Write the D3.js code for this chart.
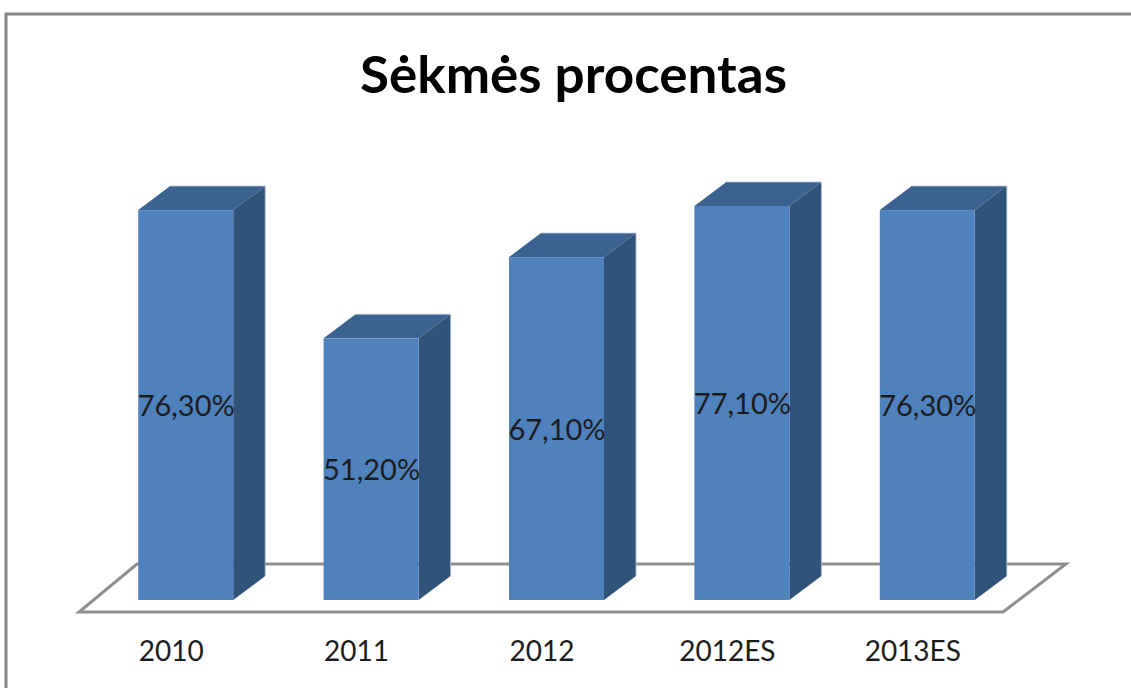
<!DOCTYPE html>
<html><head><meta charset="utf-8">
<script src="https://cdn.jsdelivr.net/npm/d3@7/dist/d3.min.js"></script>
<style>
html,body{margin:0;padding:0;background:#fff;overflow:hidden}
svg{display:block}
text{font-family:Lato,"Open Sans",sans-serif;fill:#1c1c1c}
</style></head><body>
<svg id="c" width="1131" height="688"></svg>
<script>
const chartTitle = "Sėkmės procentas";
const categories = ["2010","2011","2012","2012ES","2013ES"];
const values = [76.3,51.2,67.1,77.1,76.3];
const valueLabels = ["76,30%","51,20%","67,10%","77,10%","76,30%"];

const svg = d3.select("#c");
const depthX = 32, depthY = 24;
const x = d3.scaleBand().domain(categories).range([93,1020]).paddingInner(0.4876).paddingOuter(0.2438);
const y = d3.scaleLinear().domain([0,100]).range([600,89]);

// outer frame
svg.append("path").attr("d","M6,688V14H1131").attr("fill","none").attr("stroke","#868686").attr("stroke-width",3);

// title
svg.append("text").attr("x",573.5).attr("y",93).attr("text-anchor","middle")
  .attr("font-size",52).attr("font-weight",700).style("fill","#000")
  .attr("textLength",427).attr("lengthAdjust","spacingAndGlyphs").text(chartTitle);

// floor
svg.append("path").attr("d","M79,612H1003L1066,564H137Z")
  .attr("fill","#fff").attr("stroke","#8f8f8f").attr("stroke-width",3);

// bars
const bars = svg.append("g").selectAll("g").data(categories.map((c,i)=>({c,v:values[i],l:valueLabels[i]}))).join("g");
const b = x.bandwidth();
bars.append("path").attr("fill","#3c6291")
  .attr("d",d=>{const l=x(d.c),t=y(d.v);return `M${l},${t}L${l+depthX},${t-depthY}H${l+b+depthX}L${l+b},${t}Z`});
bars.append("path").attr("fill","#315279")
  .attr("d",d=>{const l=x(d.c)+b,t=y(d.v),z=y(0);return `M${l},${t}L${l+depthX},${t-depthY}V${z-depthY}L${l},${z}Z`});
bars.append("rect").attr("fill","#4f81bd")
  .attr("x",d=>x(d.c)).attr("y",d=>y(d.v)).attr("width",b).attr("height",d=>y(0)-y(d.v));
// soft light edge along the back of each top and right side
bars.append("path").attr("fill","none").attr("stroke","#a9bcd4").attr("stroke-width",0.8)
  .attr("d",d=>{const l=x(d.c),t=y(d.v),z=y(0);return `M${l+depthX},${t-depthY}H${l+b+depthX}V${z-depthY}`});
bars.append("text").attr("x",d=>x(d.c)+b/2+0.5).attr("y",d=>(y(d.v)+y(0))/2+11)
  .attr("text-anchor","middle").attr("font-size",29).text(d=>d.l);

// category axis
const axis = svg.append("g").attr("transform","translate(-14.5,640)").call(d3.axisBottom(x).tickSize(0).tickPadding(0));
axis.select(".domain").remove();
axis.selectAll("text").attr("font-size",28).attr("dy",null).attr("y",21);
</script>
</body></html>
